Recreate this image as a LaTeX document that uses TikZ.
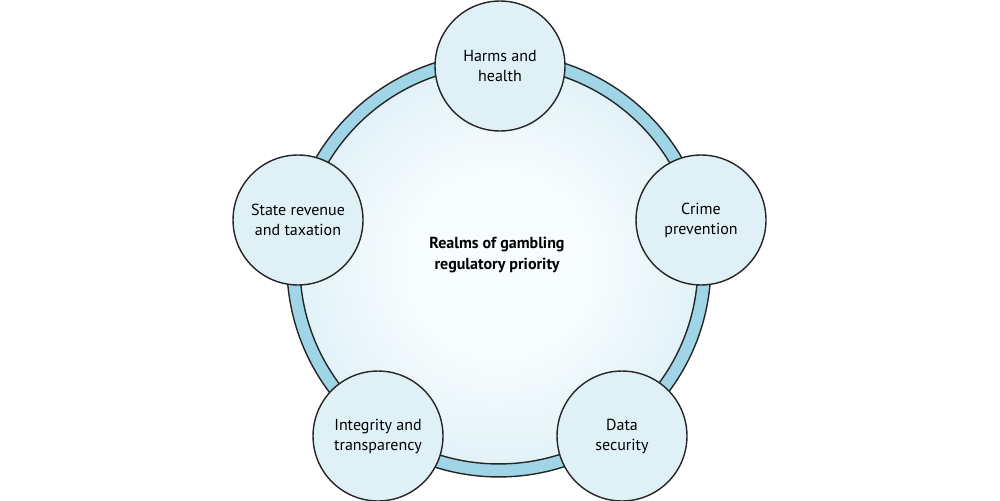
\documentclass[tikz,border=0pt]{standalone}
\usepackage{fontspec}
\setmainfont{PT Sans}
\usetikzlibrary{positioning}
\definecolor{ringblue}{HTML}{9FD5E6}
\definecolor{realmfill}{HTML}{DFF0F7}
\definecolor{glowin}{HTML}{F7FCFE}
\definecolor{glowout}{HTML}{B8DFEC}
\pgfdeclareradialshading{realmglow}{\pgfpoint{0bp}{0bp}}{color(0bp)=(glowin); color(12bp)=(glowin); color(50bp)=(glowout)}
\tikzset{realm/.style={circle, draw=black!85, line width=0.8pt, fill=realmfill,
    minimum size=2.6cm, inner sep=0pt, align=center,
    font=\fontsize{9.1}{11.4}\selectfont}}
\newcommand{\priorityring}{\draw[line width=0.8pt, draw=black!85, fill=ringblue] (0,0) circle [radius=212];
   \shade[shading=realmglow] (0,0) circle [radius=199];
   \draw[line width=0.8pt, draw=black!85] (0,0) circle [radius=199];}

\begin{document}
\begin{tikzpicture}[x=0.02cm, y=-0.02cm]

					\useasboundingbox (0,0) rectangle (1000,500);

					\begin{scope}[xshift = 9.98cm, yshift = -5.3cm]
						\priorityring
					\end{scope}

					\node[font=\fontsize{9.1}{11.4}\selectfont\bfseries, align=center] (centre) at (497,255) {Realms of gambling\\regulatory priority};

					\node[realm] (harms) at (500,66) {Harms and\\health};
					\node[realm] (crime) at (701,220) {Crime\\prevention};
					\node[realm] (data) at (622,436) {Data\\security};
					\node[realm] (integrity) at (378,436) {Integrity and\\transparency};
					\node[realm] (revenue) at (298,220) {State revenue\\and taxation};

				\end{tikzpicture}
\end{document}
